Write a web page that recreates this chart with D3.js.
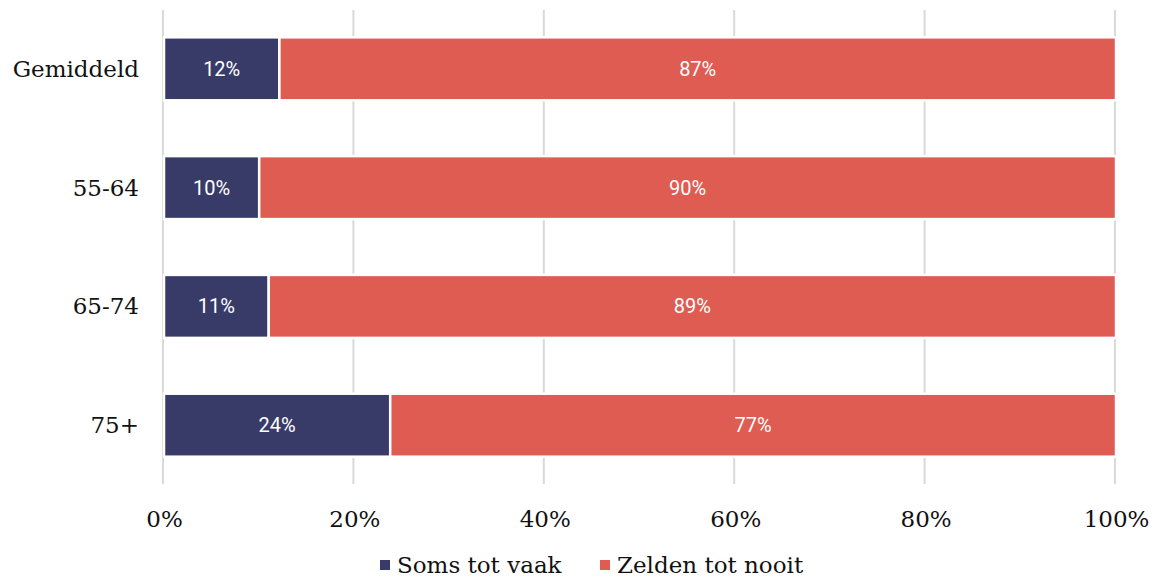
<!DOCTYPE html>
<html>
<head>
<meta charset="utf-8">
<script src="https://cdn.jsdelivr.net/npm/d3@7"></script>
<style>
  body { margin: 0; background: #fff; }
  .tick line { display: none; }
  .domain { display: none; }
</style>
</head>
<body>
<div id="container"></div>
<script>
let w = 1155;
let h = 578;

// the data
let categories = ["Gemiddeld", "55-64", "65-74", "75+"];
let somsTotVaak = [12, 10, 11, 24];
let zeldenTotNooit = [87, 90, 89, 77];
let seriesNames = ["Soms tot vaak", "Zelden tot nooit"];
let seriesKeys = ["soms", "zelden"];
let colors = ["#383b68", "#de5c52"];
let tickValues = [0, 0.2, 0.4, 0.6, 0.8, 1];

let serif = "'DejaVu Serif', serif";
let sans = "Roboto, 'Open Sans', sans-serif";

// build rows for the stack
let rows = categories.map(function(c, i){
  return { cat: c, soms: somsTotVaak[i], zelden: zeldenTotNooit[i] };
});

let stacked = d3.stack().keys(seriesKeys).offset(d3.stackOffsetExpand)(rows);

let viz = d3.select("#container")
  .append("svg")
    .attr("width", w)
    .attr("height", h)
    .style("background-color", "white");

let plotLeft = 164, plotRight = 1116, plotTop = 10, plotBottom = 484;

let xScale = d3.scaleLinear().domain([0, 1]).range([plotLeft, plotRight]);
let yScale = d3.scaleBand().domain(categories).range([plotTop, plotBottom]).paddingInner(0.47).paddingOuter(0.23);

// gridlines behind the bars
viz.append("g").selectAll("line").data(tickValues).enter().append("line")
  .attr("x1", function(d){ return xScale(d) - 1; })
  .attr("x2", function(d){ return xScale(d) - 1; })
  .attr("y1", plotTop)
  .attr("y2", plotBottom)
  .attr("stroke", "#d9d9d9")
  .attr("stroke-width", 2);

// x axis
let xAxis = d3.axisBottom(xScale).tickValues(tickValues).tickFormat(d3.format(".0%")).tickSize(0).tickPadding(0);
let xAxisGroup = viz.append("g").attr("class", "xaxis")
  .attr("transform", "translate(0," + 527 + ")")
  .call(xAxis);
xAxisGroup.selectAll("text")
  .attr("dy", 0)
  .style("font-family", serif)
  .style("font-size", "23px")
  .style("fill", "#111");

// y axis
let yAxis = d3.axisLeft(yScale).tickSize(0).tickPadding(25);
let yAxisGroup = viz.append("g").attr("class", "yaxis")
  .attr("transform", "translate(" + plotLeft + ",0)")
  .call(yAxis);
yAxisGroup.selectAll("text")
  .attr("dy", "0.35em")
  .style("font-family", serif)
  .style("font-size", "23px")
  .style("fill", "#111");

// bars
let layers = viz.append("g").selectAll(".layer").data(stacked).enter().append("g")
  .attr("class", "layer")
  .attr("fill", function(d, i){ return colors[i]; });

layers.selectAll("rect").data(function(d){ return d; }).enter().append("rect")
  .attr("x", function(d){ return xScale(d[0]); })
  .attr("width", function(d){ return xScale(d[1]) - xScale(d[0]); })
  .attr("y", function(d){ return yScale(d.data.cat); })
  .attr("height", yScale.bandwidth())
  .attr("stroke", "white")
  .attr("stroke-width", 2.5);

// value labels
let labelValues = [somsTotVaak, zeldenTotNooit];
layers.each(function(layer, li){
  d3.select(this).selectAll("text").data(layer).enter().append("text")
    .attr("x", function(d){ return (xScale(d[0]) + xScale(d[1])) / 2; })
    .attr("y", function(d){ return yScale(d.data.cat) + yScale.bandwidth() / 2; })
    .attr("dy", "0.35em")
    .attr("text-anchor", "middle")
    .style("font-family", sans)
    .style("font-size", "20px")
    .style("fill", "white")
    .text(function(d, i){ return labelValues[li][i] + "%"; });
});

// legend
let legendX = [380, 600];
let legend = viz.append("g").selectAll("g").data(seriesNames).enter().append("g")
  .attr("transform", function(d, i){ return "translate(" + legendX[i] + ",565)"; });
legend.append("rect")
  .attr("x", 0).attr("y", -5)
  .attr("width", 10).attr("height", 10)
  .attr("fill", function(d, i){ return colors[i]; });
legend.append("text")
  .attr("x", 17)
  .attr("dy", "0.35em")
  .style("font-family", serif)
  .style("font-size", "23px")
  .style("fill", "#111")
  .text(function(d){ return d; });
</script>
</body>
</html>
